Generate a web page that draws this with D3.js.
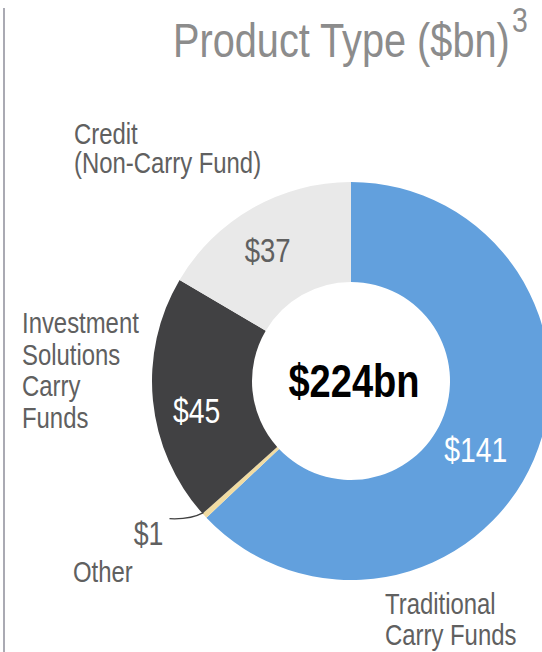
<!doctype html>
<html lang="en">
  <head>
    <meta charset="utf-8">
    <title>Product Type</title>
    <style>
        body {
            margin: 0;
            background-color: white;
        }
        text {
            font-family: "Liberation Sans", Arial, sans-serif;
        }
        .catLabel {
            fill: #606060;
            font-size: 29.5px;
        }
    </style>
  </head>
  <body>
    <div id="chart"></div>
    <script src="https://d3js.org/d3.v7.min.js"></script>
    <script>
    // data, clockwise from 12 o'clock
    var categories = ["Traditional Carry Funds", "Other", "Investment Solutions Carry Funds", "Credit (Non-Carry Fund)"];
    var values = [141, 1, 45, 37];
    var valueLabels = ["$141", "$1", "$45", "$37"];
    var totalLabel = "$224bn";
    var colors = ["#62a0dd", "#f0dba2", "#414143", "#e9e9e9"];
    var valueColors = ["#ffffff", "#606060", "#ffffff", "#606060"];

    var width = 542, height = 652;
    var cx = 351, cy = 381;
    var outerR = 199, innerR = 99;
    var narrow = 0.81;   // no Arial Narrow here, squeeze Liberation Sans instead

    var svg = d3.select("#chart")
                .append("svg")
                .attr("width", width)
                .attr("height", height);

    function narrowText(parent, x, y) {
        return parent.append("text")
            .attr("transform", "translate(" + x + "," + y + ") scale(" + narrow + ",1)");
    }

    // left border line
    svg.append("line")
        .attr("x1", 4).attr("x2", 4)
        .attr("y1", 8).attr("y2", height)
        .attr("stroke", "#8e8e9a")
        .attr("stroke-width", 1.5);

    // title
    narrowText(svg, 173, 57)
        .attr("fill", "#8c8c8c")
        .style("font-size", "49px")
        .text("Product Type ($bn)");
    narrowText(svg, 512, 32)
        .attr("fill", "#8c8c8c")
        .style("font-size", "35px")
        .text("3");

    var pie = d3.pie().sort(null).value(function(d) { return d; });
    var arcs = pie(values);

    var arc = d3.arc().innerRadius(innerR).outerRadius(outerR);

    var g = svg.append("g")
        .attr("transform", "translate(" + cx + "," + cy + ")");

    g.selectAll("path.slice")
        .data(arcs)
        .enter()
        .append("path")
        .attr("class", "slice")
        .attr("d", arc)
        .attr("fill", function(d, i) { return colors[i]; });

    // value labels: centroid on mid ring plus a small nudge
    var labelArc = d3.arc().innerRadius(150).outerRadius(150);
    var nudge = [[-13, 22], [0, 0], [-5, 27], [-9, 11]];
    var valueSizes = [35, 32, 35, 34];

    arcs.forEach(function(d) {
        if (d.index == 1) return;
        var c = labelArc.centroid(d);
        narrowText(g, c[0] + nudge[d.index][0], c[1] + nudge[d.index][1])
            .attr("text-anchor", "middle")
            .attr("fill", valueColors[d.index])
            .style("font-size", valueSizes[d.index] + "px")
            .text(valueLabels[d.index]);
    });

    // small slice: leader line + label outside
    var other = arcs[1];
    var edgeArc = d3.arc().innerRadius(outerR).outerRadius(outerR);
    var p = edgeArc.centroid(other);
    g.append("path")
        .attr("d", "M" + (p[0] - 35) + "," + (p[1] + 3) +
                   " Q" + (p[0] - 14) + "," + (p[1] + 4) + " " + (p[0] - 1) + "," + (p[1] - 3))
        .attr("fill", "none")
        .attr("stroke", "#404040")
        .attr("stroke-width", 1.3);
    narrowText(g, p[0] - 56, p[1] + 29)
        .attr("text-anchor", "middle")
        .attr("fill", valueColors[1])
        .style("font-size", "33px")
        .text(valueLabels[1]);

    // centre total
    narrowText(g, 3, 16)
        .attr("text-anchor", "middle")
        .attr("fill", "#000000")
        .style("font-size", "47px")
        .style("font-weight", "bold")
        .text(totalLabel);

    // category labels
    var catLines = [
        ["Traditional", "Carry Funds"],
        ["Other"],
        ["Investment", "Solutions", "Carry", "Funds"],
        ["Credit", "(Non-Carry Fund)"]
    ];
    var catPos = [[385, 614, 31], [73, 582, 32], [22, 333, 31.7], [74, 144, 29]];

    catLines.forEach(function(lines, i) {
        var t = narrowText(svg, catPos[i][0], catPos[i][1])
            .attr("class", "catLabel");
        lines.forEach(function(line, j) {
            t.append("tspan")
                .attr("x", 0)
                .attr("dy", j == 0 ? 0 : catPos[i][2])
                .text(line);
        });
    });
    </script>
  </body>
</html>
